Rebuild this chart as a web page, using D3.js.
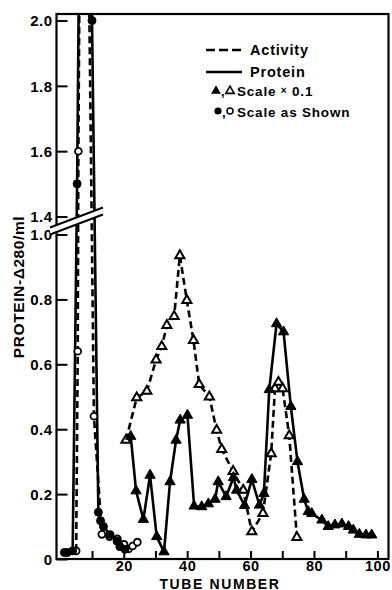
<!DOCTYPE html>
<html><head><meta charset="utf-8">
<script src="https://cdn.jsdelivr.net/npm/d3@7"></script>
<style>
body{margin:0;background:#fff}
svg text{font-family:"Liberation Sans",Arial,Helvetica,sans-serif;font-weight:bold;fill:#000}
</style>
</head><body>
<svg id="chart" width="392" height="590"></svg>
<script>
// ---- Data (tube number) ----
// Early fraction, "scale as shown"
const proteinTubes  = [1.3, 2.2, 3.9, 5.3, 6.2, 9.3, 10.0, 12.0, 12.7, 13.6, 15.7, 17.9, 18.8, 20.4];
const proteinValues = [0.02, 0.02, 0.025, 1.5, 2.5, 2.5, 2.0, 0.144, 0.118, 0.10, 0.075, 0.055, 0.038, 0.03];
const activityTubes  = [5.0, 5.5, 5.7, 6.3, 8.6, 10.6, 13.1, 15.5, 18.0, 20.1, 21.5, 22.8, 24.3];
const activityValues = [0.025, 0.64, 1.6, 2.5, 2.5, 0.44, 0.076, 0.069, 0.062, 0.045, 0.031, 0.04, 0.052];
// Later fractions, "scale x 0.1"
const proteinX10Tubes  = [22.2, 23.9, 26.2, 28.3, 30.4, 32.7, 34.6, 36.5, 37.8, 40.1, 42.2, 44.6, 46.7, 48.8, 49.8, 52.3, 54.6, 55.6, 58.1, 60.4, 62.8, 64.2, 65.9, 68.2, 70.4, 72.7, 74.8, 76.9, 78.2, 79.3, 82.5, 84.5, 86.6, 88.8, 90.9, 92.4, 94.3, 96.4, 98.2];
const proteinX10Values = [0.378, 0.21, 0.122, 0.258, 0.069, 0.022, 0.238, 0.366, 0.428, 0.443, 0.163, 0.161, 0.17, 0.184, 0.238, 0.192, 0.251, 0.212, 0.165, 0.245, 0.166, 0.202, 0.522, 0.725, 0.70, 0.47, 0.30, 0.184, 0.146, 0.14, 0.12, 0.10, 0.105, 0.108, 0.10, 0.089, 0.076, 0.074, 0.074];
const activityX10Tubes  = [20.7, 24.1, 27.3, 30.2, 32.0, 33.6, 35.9, 37.7, 39.9, 42.0, 43.8, 47.0, 49.3, 50.9, 54.5, 57.7, 60.4, 63.9, 66.5, 67.7, 68.8, 70.1, 72.2, 74.6];
const activityX10Values = [0.366, 0.497, 0.517, 0.614, 0.655, 0.72, 0.748, 0.935, 0.797, 0.674, 0.538, 0.50, 0.397, 0.338, 0.27, 0.212, 0.084, 0.141, 0.325, 0.525, 0.545, 0.525, 0.38, 0.067];
// Axis ticks
const yTicks = [0, 0.2, 0.4, 0.6, 0.8, 1.0, 1.4, 1.6, 1.8, 2.0];
const xTicks = [10, 20, 30, 40, 50, 60, 70, 80, 90, 100];
const xLabels = [20, 40, 60, 80, 100];

const svg = d3.select("#chart");
const L = 56.5, R = 388.5, T = 14, B = 559;
const x = d3.scaleLinear().domain([-1.2, 103.5]).range([L, R]);
// broken axis: 0..1.0 and 1.4..2.0 share the same unit length
const y = d3.scaleLinear().domain([0, 1.0, 1.4, 2.02]).range([B, 234.5, 216.5, T]);

const zip = (a, b) => a.map((t, i) => [t, b[i]]);
const prot = zip(proteinTubes, proteinValues);
const act = zip(activityTubes, activityValues);
const prot10 = zip(proteinX10Tubes, proteinX10Values);
const act10 = zip(activityX10Tubes, activityX10Values);

svg.append("clipPath").attr("id", "clip").append("rect")
  .attr("x", L).attr("y", T).attr("width", R - L).attr("height", B - T);

const line = d3.line().x(d => x(d[0])).y(d => y(d[1]));
const g = svg.append("g").attr("clip-path", "url(#clip)");

function drawLine(data, dashed) {
  g.append("path").datum(data).attr("d", line)
    .attr("fill", "none").attr("stroke", "#000").attr("stroke-width", 2.6)
    .attr("stroke-linejoin", "round")
    .attr("stroke-dasharray", dashed ? "7,4" : null);
}
drawLine(act, true);
drawLine(prot, false);
drawLine(act10, true);
drawLine(prot10, false);

const tri = d3.symbol().type(d3.symbolTriangle);
function triangles(data, filled) {
  g.selectAll(null).data(data).enter().append("path")
    .attr("transform", d => `translate(${x(d[0])},${y(d[1])})`)
    .attr("d", tri.size(filled ? 46 : 36)())
    .attr("fill", filled ? "#000" : "#fff")
    .attr("stroke", "#000").attr("stroke-width", filled ? 1 : 2);
}
function circles(data, filled) {
  g.selectAll(null).data(data).enter().append("circle")
    .attr("cx", d => x(d[0])).attr("cy", d => y(d[1])).attr("r", filled ? 4 : 3.4)
    .attr("fill", filled ? "#000" : "#fff")
    .attr("stroke", "#000").attr("stroke-width", filled ? 1 : 1.8);
}
triangles(act10, false);
triangles(prot10, true);
circles(act, false);
circles(prot, true);

// axes
const yAxis = d3.axisLeft(y).tickValues(yTicks).tickSizeInner(-11).tickSizeOuter(0).tickPadding(4)
  .tickFormat(d => d === 0 ? "0" : d3.format(".1f")(d));
const ya = svg.append("g").attr("transform", `translate(${L},0)`).call(yAxis);
ya.select(".domain").remove();
ya.selectAll(".tick line").attr("stroke-width", 2);
ya.selectAll(".tick text").style("font-size", "15px").style("letter-spacing", "0.5px").attr("dy", "0.36em");

const xAxis = d3.axisBottom(x).tickValues(xTicks).tickSizeInner(-8).tickSizeOuter(0).tickPadding(2)
  .tickFormat(d => xLabels.includes(d) ? d : "");
const xa = svg.append("g").attr("transform", `translate(0,${B})`).call(xAxis);
xa.select(".domain").remove();
xa.selectAll(".tick line").attr("stroke-width", 2);
xa.selectAll(".tick text").style("font-size", "14.5px").style("letter-spacing", "0.5px");

// frame
svg.append("rect").attr("x", L).attr("y", T).attr("width", R - L).attr("height", B - T)
  .attr("fill", "none").attr("stroke", "#000").attr("stroke-width", 2.2);

// axis break
const bx0 = 50, bx1 = 103;
svg.append("polygon")
  .attr("points", `${bx0},${y(1.0) - 7} ${bx1},${y(1.4) - 9} ${bx1},${y(1.4) - 2} ${bx0},${y(1.0)}`)
  .attr("fill", "#fff");
[[0, -7], [7, 0]].forEach(([a, b]) => {
  svg.append("line").attr("x1", bx0).attr("y1", y(1.0) - 7 + a)
    .attr("x2", bx1).attr("y2", y(1.4) - 9 + a)
    .attr("stroke", "#000").attr("stroke-width", 2);
});

// titles
svg.append("text").attr("transform", `translate(24,287) rotate(-90)`)
  .attr("text-anchor", "middle").style("font-size", "15.5px").style("letter-spacing", "0.6px")
  .text("PROTEIN-Δ280/ml");
svg.append("text").attr("x", 220).attr("y", 588.5).attr("text-anchor", "middle")
  .style("font-size", "14px").style("letter-spacing", "1.6px").text("TUBE NUMBER");

// legend
const lg = svg.append("g");
lg.append("line").attr("x1", 206).attr("x2", 242).attr("y1", 50).attr("y2", 50)
  .attr("stroke", "#000").attr("stroke-width", 2.6).attr("stroke-dasharray", "9,4");
lg.append("text").attr("x", 250).attr("y", 55).style("font-size", "14.5px").style("letter-spacing", "0.8px").text("Activity");
lg.append("line").attr("x1", 206).attr("x2", 242).attr("y1", 72).attr("y2", 72)
  .attr("stroke", "#000").attr("stroke-width", 2.6);
lg.append("text").attr("x", 250).attr("y", 77).style("font-size", "14.5px").style("letter-spacing", "0.8px").text("Protein");
lg.append("path").attr("transform", "translate(216,91)").attr("d", tri.size(42)()).attr("fill", "#000");
lg.append("text").attr("x", 221).attr("y", 96).style("font-size", "13px").text(",");
lg.append("path").attr("transform", "translate(230,91)").attr("d", tri.size(30)())
  .attr("fill", "#fff").attr("stroke", "#000").attr("stroke-width", 1.6);
const t3 = lg.append("text").attr("x", 237).attr("y", 96).style("font-size", "13.5px").style("letter-spacing", "0.8px");
t3.append("tspan").text("Scale ");
t3.append("tspan").style("font-size", "10px").attr("dy", -2).text("×");
t3.append("tspan").attr("dy", 2).text(" 0.1");
lg.append("circle").attr("cx", 218).attr("cy", 111).attr("r", 3.6).attr("fill", "#000");
lg.append("text").attr("x", 222).attr("y", 117).style("font-size", "13px").text(",");
lg.append("circle").attr("cx", 230).attr("cy", 111).attr("r", 3).attr("fill", "#fff")
  .attr("stroke", "#000").attr("stroke-width", 1.5);
lg.append("text").attr("x", 237).attr("y", 117).style("font-size", "13.5px").style("letter-spacing", "0.8px").text("Scale as Shown");
</script>
</body></html>
